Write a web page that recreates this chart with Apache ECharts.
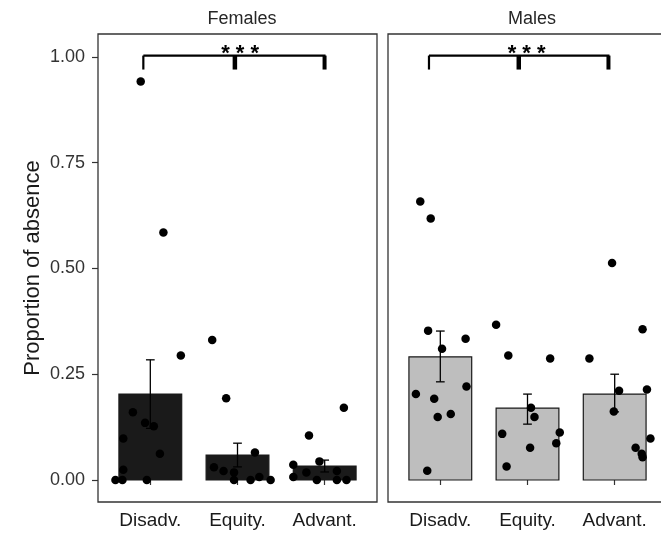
<!DOCTYPE html>
<html>
<head>
<meta charset="UTF-8">
<title>Proportion of absence</title>
<script src="https://cdn.jsdelivr.net/npm/echarts@6/dist/echarts.min.js"></script>
<style>html,body{margin:0;padding:0;background:#fff}</style>
</head>
<body>
<div id="main" style="width:661px;height:533px"></div>
<script type="text/javascript">
var categories = ['Disadv.', 'Equity.', 'Advant.'];
var panels = ['Females', 'Males'];
var yTicks = [0, 0.25, 0.5, 0.75, 1];

// bar heights (mean) and error bar ends
var femMeans = [0.203, 0.059, 0.033];
var femLow = [0.122, 0.031, 0.019];
var femHigh = [0.284, 0.087, 0.047];
var maleMeans = [0.291, 0.170, 0.203];
var maleLow = [0.232, 0.132, 0.161];
var maleHigh = [0.352, 0.203, 0.250];

// individual (jittered) observations: [group position, proportion]
var femPoints = [
  [0.80, 0.160], [0.69, 0.098], [0.69, 0.024], [0.60, 0.000], [0.68, 0.000],
  [0.96, 0.000], [0.94, 0.135], [1.04, 0.127], [1.11, 0.062], [1.35, 0.294],
  [0.89, 0.942], [1.15, 0.585],
  [1.71, 0.331], [1.87, 0.193], [1.73, 0.030], [1.84, 0.021], [1.96, 0.018],
  [1.96, 0.000], [2.15, 0.000], [2.25, 0.007], [2.38, 0.000], [2.20, 0.065],
  [3.22, 0.171], [2.82, 0.105], [2.64, 0.036], [2.64, 0.007], [2.79, 0.018],
  [2.94, 0.044], [2.91, 0.000], [3.14, 0.021], [3.14, 0.000], [3.25, 0.000]
];
var malePoints = [
  [0.86, 0.353], [1.02, 0.310], [1.29, 0.334], [0.72, 0.203], [0.93, 0.192],
  [0.97, 0.149], [1.12, 0.156], [1.30, 0.221], [0.85, 0.022], [0.77, 0.658],
  [0.89, 0.618],
  [1.64, 0.367], [1.78, 0.294], [2.26, 0.287], [2.04, 0.171], [2.08, 0.149],
  [1.71, 0.109], [2.37, 0.112], [2.33, 0.087], [2.03, 0.076], [1.76, 0.032],
  [2.71, 0.287], [3.32, 0.356], [3.05, 0.211], [3.37, 0.214], [2.99, 0.162],
  [3.41, 0.098], [3.24, 0.076], [3.31, 0.062], [3.32, 0.054], [2.97, 0.513]
];

// significance brackets: [left x, middle x, right x, line y, foot y, star x]
var femBracket = [0.92, 1.97, 3.01, 1.003, 0.970, 2.03];
var maleBracket = [0.87, 1.90, 2.94, 1.003, 0.970, 1.99];
var sigLabel = '* * *';

var FONT = 'Liberation Sans, Arial, sans-serif';
var INK = '#1a1a1a';

function barRender(fill) {
  return function (params, api) {
    var x = api.value(0), v = api.value(1);
    var p0 = api.coord([x - 0.36, v]);
    var p1 = api.coord([x + 0.36, 0]);
    return {
      type: 'rect',
      shape: { x: p0[0], y: p0[1], width: p1[0] - p0[0], height: p1[1] - p0[1] },
      style: { fill: fill, stroke: INK, lineWidth: 1.2 }
    };
  };
}

function errRender(params, api) {
  var x = api.value(0);
  var lo = api.coord([x, api.value(1)]);
  var hi = api.coord([x, api.value(2)]);
  var half = api.size([0.05, 0])[0];
  var st = { stroke: '#000', lineWidth: 1.3 };
  return {
    type: 'group',
    children: [
      { type: 'line', shape: { x1: lo[0], y1: lo[1], x2: hi[0], y2: hi[1] }, style: st },
      { type: 'line', shape: { x1: hi[0] - half, y1: hi[1], x2: hi[0] + half, y2: hi[1] }, style: st },
      { type: 'line', shape: { x1: lo[0] - half, y1: lo[1], x2: lo[0] + half, y2: lo[1] }, style: st }
    ]
  };
}

function bracketRender(params, api) {
  var xl = api.value(0), xm = api.value(1), xr = api.value(2);
  var yl = api.value(3), yf = api.value(4), xs = api.value(5);
  var a = api.coord([xl, yl]), b = api.coord([xr, yl]);
  var af = api.coord([xl, yf]), m = api.coord([xm, yl]), mf = api.coord([xm, yf]);
  var bf = api.coord([xr, yf]);
  var s = api.coord([xs, yl]);
  return {
    type: 'group',
    children: [
      { type: 'line', shape: { x1: a[0], y1: a[1], x2: b[0], y2: b[1] }, style: { stroke: '#000', lineWidth: 2.2 } },
      { type: 'line', shape: { x1: af[0], y1: a[1], x2: af[0], y2: af[1] }, style: { stroke: '#000', lineWidth: 2.2 } },
      { type: 'line', shape: { x1: m[0], y1: m[1], x2: mf[0], y2: mf[1] }, style: { stroke: '#000', lineWidth: 4.5 } },
      { type: 'line', shape: { x1: b[0] - 1, y1: b[1], x2: bf[0] - 1, y2: bf[1] }, style: { stroke: '#000', lineWidth: 4 } },
      { type: 'text', style: { text: sigLabel, x: s[0], y: s[1] + 9, textAlign: 'center', textVerticalAlign: 'bottom',
        fill: '#000', font: 'bold 22px ' + FONT } }
    ]
  };
}

function xAxisFor(idx) {
  return {
    type: 'value', gridIndex: idx, min: 0.4, max: 3.6,
    axisLine: { show: false },
    splitLine: { show: false },
    axisTick: { show: true, customValues: [1, 2, 3], length: 5, lineStyle: { color: '#333', width: 1.2 } },
    axisLabel: {
      customValues: [1, 2, 3], margin: 9, color: INK, fontSize: 19, fontFamily: FONT,
      formatter: function (v) { return categories[Math.round(v) - 1]; }
    }
  };
}

function yAxisFor(idx) {
  var ax = {
    type: 'value', gridIndex: idx, min: -0.052, max: 1.054,
    axisLine: { show: false },
    splitLine: { show: false },
    axisTick: { show: idx === 0, customValues: yTicks, length: 6, lineStyle: { color: '#333', width: 1.2 } },
    axisLabel: {
      show: idx === 0, customValues: yTicks, margin: 13, color: '#333', fontSize: 18, fontFamily: FONT,
      formatter: function (v) { return v.toFixed(2); }
    }
  };
  if (idx === 0) {
    ax.name = 'Proportion of absence';
    ax.nameLocation = 'middle';
    ax.nameGap = 54;
    ax.nameTextStyle = { fontSize: 22, color: INK, fontFamily: FONT };
  }
  return ax;
}

function pairs(means) {
  return means.map(function (v, i) { return [i + 1, v]; });
}
function errs(lo, hi) {
  return lo.map(function (v, i) { return [i + 1, v, hi[i]]; });
}

var myChart = echarts.init(document.getElementById('main'));
var option = {
  animation: false,
  backgroundColor: '#fff',
  title: [
    { text: panels[0], left: 237, top: 5, textAlign: 'center',
      textStyle: { fontSize: 18, fontWeight: 'normal', color: '#262626', fontFamily: FONT } },
    { text: panels[1], left: 527, top: 5, textAlign: 'center',
      textStyle: { fontSize: 18, fontWeight: 'normal', color: '#262626', fontFamily: FONT } }
  ],
  grid: [
    { left: 98, top: 34, width: 279, height: 468, show: true, borderColor: '#333', borderWidth: 1.3, outerBoundsMode: 'none' },
    { left: 388, top: 34, width: 279, height: 468, show: true, borderColor: '#333', borderWidth: 1.3, outerBoundsMode: 'none' }
  ],
  xAxis: [xAxisFor(0), xAxisFor(1)],
  yAxis: [yAxisFor(0), yAxisFor(1)],
  series: [
    { type: 'custom', xAxisIndex: 0, yAxisIndex: 0, z: 2, renderItem: barRender('#1a1a1a'), data: pairs(femMeans) },
    { type: 'custom', xAxisIndex: 1, yAxisIndex: 1, z: 2, renderItem: barRender('#bebebe'), data: pairs(maleMeans) },
    { type: 'custom', xAxisIndex: 0, yAxisIndex: 0, z: 3, renderItem: errRender, data: errs(femLow, femHigh) },
    { type: 'custom', xAxisIndex: 1, yAxisIndex: 1, z: 3, renderItem: errRender, data: errs(maleLow, maleHigh) },
    { type: 'scatter', xAxisIndex: 0, yAxisIndex: 0, z: 4, symbolSize: 8.5, itemStyle: { color: '#000', opacity: 1 }, data: femPoints },
    { type: 'scatter', xAxisIndex: 1, yAxisIndex: 1, z: 4, symbolSize: 8.5, itemStyle: { color: '#000', opacity: 1 }, data: malePoints },
    { type: 'custom', xAxisIndex: 0, yAxisIndex: 0, z: 5, renderItem: bracketRender, data: [femBracket] },
    { type: 'custom', xAxisIndex: 1, yAxisIndex: 1, z: 5, renderItem: bracketRender, data: [maleBracket] }
  ]
};
myChart.setOption(option);
</script>
</body>
</html>
